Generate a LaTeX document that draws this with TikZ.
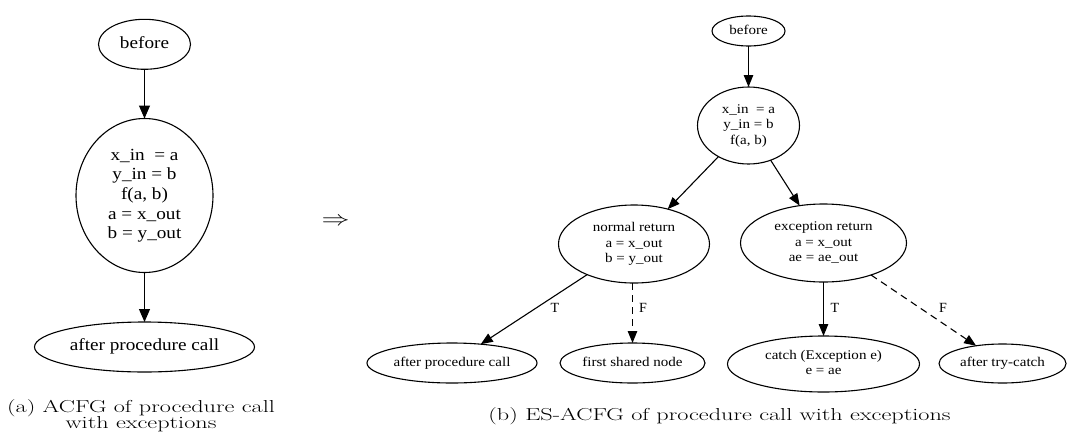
\documentclass[tikz,border=0pt]{standalone}
\usepackage{fontspec}
\usetikzlibrary{shapes.geometric,arrows.meta}
\newfontfamily\gvfont{Liberation Serif}
% node labels: Times-like, slightly widened
\newcommand\gvbig[1]{\scalebox{1.13}[1]{\gvfont\fontsize{17}{19.6}\selectfont\begin{tabular}{@{}c@{}}#1\end{tabular}}}
\newcommand\gvsmall[1]{\scalebox{1.13}[1]{\gvfont\fontsize{13.3}{15.6}\selectfont\begin{tabular}{@{}c@{}}#1\end{tabular}}}
\newcommand\captxt[1]{\scalebox{1.4}[1]{\fontsize{17.3}{17.5}\selectfont #1}}
\begin{document}
\begin{tikzpicture}[x=1pt,y=-1pt,
  gv/.style={draw, ellipse, line width=1.1pt, inner sep=0pt, outer sep=0pt},
  lbl/.style={inner sep=0pt},
  edgebig/.style={line width=1.1pt, -{Triangle[length=13pt,width=11pt]}},
  edgesmall/.style={line width=1.1pt, -{Triangle[length=12pt,width=9.5pt]}},
  dashedge/.style={edgesmall, dash pattern=on 7pt off 5pt},
  elbl/.style={inner sep=0pt, font=\gvfont\fontsize{14}{15}\selectfont}]
\useasboundingbox (0,0) rectangle (1067,442);

% ---- (a) ACFG of a procedure call ----
\node[gv, minimum width=92pt, minimum height=50pt]  (ab) at (144.5,44.3) {};
\node[lbl] (abt) at (ab) {\gvbig{before}};
\node[gv, minimum width=137pt, minimum height=154pt] (ac) at (144.5,195.5) {};
\node[lbl] (act) at (ac) {\gvbig{x\_in\ \ = a\\ y\_in = b\\ f(a, b)\\ a = x\_out\\ b = y\_out}};
\node[gv, minimum width=220pt, minimum height=50pt] (aa) at (144.5,347) {};
\node[lbl] (aat) at (aa) {\gvbig{after procedure call}};
\draw[edgebig] (ab) -- (ac);
\draw[edgebig] (ac) -- (aa);

\node[lbl] (capa) at (141,417) {\captxt{\begin{tabular}{@{}c@{}}(a) ACFG of procedure call\\[-1.5pt] with exceptions\end{tabular}}};

% ---- transformation arrow ----
\node[lbl] (imp) at (335.5,222) {\scalebox{1.35}[1]{\fontsize{20}{20}\selectfont$\Rightarrow$}};

% ---- (b) ES-ACFG with exceptions ----
\node[gv, minimum width=73pt, minimum height=30pt] (bb) at (748.5,31) {};
\node[lbl] (bbt) at (bb) {\gvsmall{before}};
\node[gv, minimum width=102pt, minimum height=77pt] (bc) at (748.5,125.5) {};
\node[lbl] (bct) at (bc) {\gvsmall{x\_in\ \ = a\\ y\_in = b\\ f(a, b)}};
\node[gv, minimum width=151pt, minimum height=78pt] (nr) at (634,244) {};
\node[lbl] (nrt) at (nr) {\gvsmall{normal return\\ a = x\_out\\ b = y\_out}};
\node[gv, minimum width=166pt, minimum height=78pt] (er) at (823.5,243) {};
\node[lbl] (ert) at (er) {\gvsmall{exception return\\ a = x\_out\\ ae = ae\_out}};
\node[gv, minimum width=170pt, minimum height=40pt] (bap) at (452,363) {};
\node[lbl] (bapt) at (bap) {\gvsmall{after procedure call}};
\node[gv, minimum width=145pt, minimum height=40pt] (fs) at (632.5,363) {};
\node[lbl] (fst) at (fs) {\gvsmall{first shared node}};
\node[gv, minimum width=192pt, minimum height=56pt] (ct) at (823.5,364) {};
\node[lbl] (ctt) at (ct) {\gvsmall{catch (Exception e)\\ e = ae}};
\node[gv, minimum width=127pt, minimum height=39pt] (atc) at (1002.5,363.5) {};
\node[lbl] (atct) at (atc) {\gvsmall{after try-catch}};

\draw[edgesmall] (bb) -- (bc);
\draw[edgesmall] (bc) -- (nr);
\draw[edgesmall] (bc) -- (er);
\draw[edgesmall] (nr) -- (bap);
\draw[dashedge] (nr.south -| fs.north) -- (fs.north);
\draw[edgesmall] (er) -- (ct);
\draw[dashedge] (er) -- (atc);

\node[elbl] (t1) at (555,308) {T};
\node[elbl] (f1) at (643,308) {F};
\node[elbl] (t2) at (835,308) {T};
\node[elbl] (f2) at (943,308) {F};

\node[lbl] (capb) at (719.5,416) {\captxt{(b) ES-ACFG of procedure call with exceptions}};
\end{tikzpicture}
\end{document}
